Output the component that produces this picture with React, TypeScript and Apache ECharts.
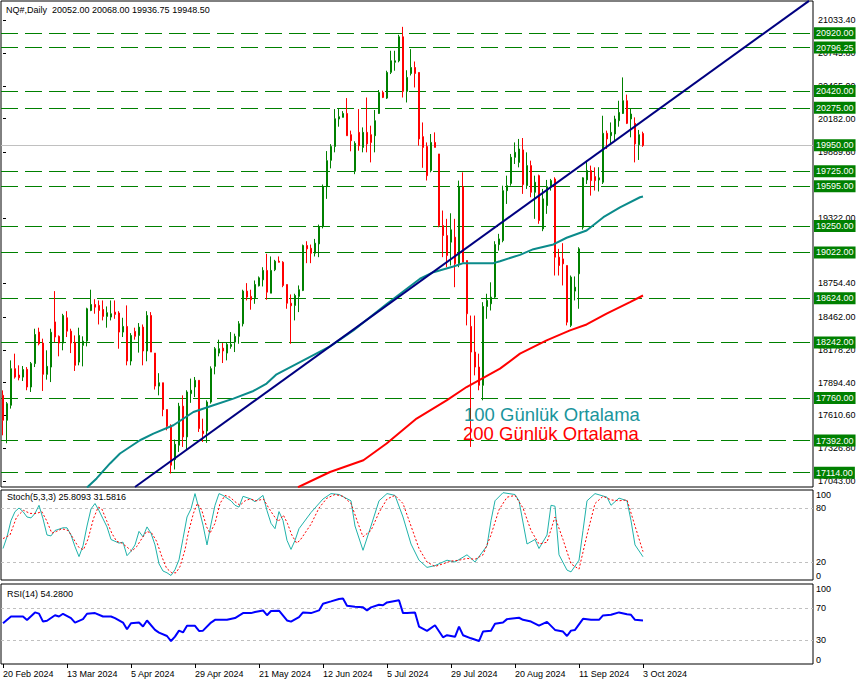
import React, { useEffect, useRef } from 'react';
import * as echarts from 'echarts';

const FONT = '"Liberation Sans", Arial, sans-serif';
const HOLIDAYS = ['2024-03-29', '2024-07-04'];
const MONTHS = ['Jan', 'Feb', 'Mar', 'Apr', 'May', 'Jun', 'Jul', 'Aug', 'Sep', 'Oct', 'Nov', 'Dec'];
const BAR_COUNT = 161;
const SLOT_COUNT = 203;
const PRICE_MIN = 16990;
const PRICE_MAX = 21200;

// [open, high, low, close]
const candles: number[][] = [
  [17784, 17827, 17438, 17568], [17568, 17726, 17369, 17712], [17698, 18087, 17669, 18015], [18015, 18145, 17929, 17942],
  [17960, 18044, 17914, 17936], [17942, 18038, 17908, 18007], [18009, 18029, 17828, 17856], [17856, 18073, 17813, 18059],
  [18059, 18361, 18029, 18311], [18332, 18370, 18217, 18231], [18237, 18275, 17822, 17966], [17966, 18174, 17920, 18035],
  [18029, 18361, 17899, 18330], [18420, 18687, 18245, 18289], [18295, 18303, 18122, 18237], [18237, 18490, 18174, 18475],
  [18456, 18513, 18289, 18340], [18340, 18361, 18150, 18237], [18243, 18303, 17995, 18044], [18072, 18370, 18044, 18303],
  [18217, 18295, 18035, 18254], [18254, 18543, 18208, 18534], [18519, 18699, 18513, 18571], [18571, 18617, 18491, 18548],
  [18563, 18606, 18398, 18519], [18528, 18606, 18433, 18468], [18468, 18554, 18370, 18500], [18462, 18606, 18433, 18491],
  [18505, 18606, 18447, 18485], [18497, 18513, 18188, 18332], [18332, 18456, 18289, 18381], [18381, 18563, 18044, 18081],
  [18081, 18323, 18044, 18303], [18338, 18370, 18266, 18295], [18303, 18410, 18154, 18375], [18375, 18398, 18044, 18168],
  [18168, 18513, 18079, 18476], [18476, 18505, 18159, 18159], [18150, 18150, 17834, 17864], [17864, 17976, 17784, 17893],
  [17893, 17893, 17603, 17661], [17661, 17661, 17481, 17516], [17516, 17533, 17107, 17179], [17228, 17401, 17142, 17360],
  [17352, 17719, 17294, 17690], [17690, 17784, 17337, 17424], [17424, 17828, 17309, 17813], [17799, 17929, 17719, 17828],
  [17856, 17943, 17769, 17914], [17914, 17914, 17467, 17496], [17475, 17582, 17380, 17452], [17475, 17741, 17372, 17726],
  [17726, 18035, 17712, 18015], [18035, 18202, 17966, 18188], [18150, 18266, 18122, 18188], [18193, 18237, 18064, 18168],
  [18150, 18245, 18087, 18225], [18208, 18332, 18188, 18225], [18245, 18318, 18159, 18295], [18295, 18427, 18231, 18404],
  [18404, 18699, 18381, 18687], [18687, 18756, 18606, 18635], [18641, 18699, 18526, 18612], [18629, 18779, 18577, 18744],
  [18733, 18814, 18727, 18802], [18785, 18894, 18727, 18866], [18866, 19010, 18612, 18678], [18669, 18987, 18669, 18866],
  [18872, 18958, 18860, 18946], [18946, 18987, 18935, 18937], [18937, 18946, 18721, 18736], [18744, 18744, 18534, 18582],
  [18582, 18658, 18231, 18560], [18563, 18664, 18433, 18649], [18641, 18736, 18505, 18699], [18693, 19090, 18687, 19082],
  [19082, 19119, 18929, 19053], [19058, 19090, 18929, 19015], [19015, 19139, 18987, 19102], [19096, 19263, 18981, 19246],
  [19246, 19610, 19230, 19592], [19592, 19900, 19486, 19817], [19820, 19960, 19750, 19940], [19940, 20264, 19889, 20180],
  [20178, 20264, 20111, 20198], [20192, 20246, 20192, 20226], [20226, 20359, 20033, 20033], [20042, 20077, 19898, 19990],
  [19725, 19985, 19700, 19967], [20062, 20264, 19903, 19946], [19932, 20105, 19889, 20062], [20062, 20364, 19889, 19962],
  [20042, 20120, 19802, 19975], [20033, 20256, 19889, 20163], [20226, 20429, 20221, 20408], [20408, 20423, 20359, 20365],
  [20359, 20596, 20351, 20581], [20582, 20769, 20567, 20682], [20669, 20769, 20596, 20682], [20682, 20907, 20669, 20890],
  [20890, 20976, 20364, 20417], [20417, 20600, 20321, 20538], [20572, 20783, 20555, 20624], [20624, 20676, 20451, 20572],
  [20581, 20581, 19947, 20005], [20025, 20148, 19755, 19932], [19940, 19975, 19645, 19687], [19731, 20048, 19716, 19975],
  [19975, 20062, 19932, 19932], [19875, 19875, 19240, 19255], [19255, 19385, 18981, 19168], [19168, 19313, 18894, 18995],
  [19111, 19361, 18909, 19218], [19154, 19313, 18721, 18924], [18924, 19644, 18894, 19592], [19592, 19716, 18937, 18937],
  [18952, 18952, 18390, 18491], [18381, 18475, 17337, 18159], [18159, 18475, 17957, 18029], [18029, 18145, 17828, 17871],
  [17871, 18591, 17741, 18554], [18554, 18664, 18447, 18606], [18577, 18763, 18519, 18635], [18635, 19119, 18620, 19090],
  [19090, 19183, 19038, 19139], [19125, 19600, 19110, 19557], [19557, 19687, 19442, 19600], [19620, 19875, 19600, 19846],
  [19846, 19975, 19788, 19889], [19802, 20005, 19759, 19918], [19910, 20013, 19529, 19610], [19601, 19889, 19572, 19774],
  [19774, 19817, 19500, 19543], [19543, 19687, 19313, 19630], [19687, 19696, 19270, 19298], [19226, 19572, 19206, 19486],
  [19428, 19650, 19356, 19592], [19592, 19659, 19557, 19644], [19658, 19673, 18822, 18981], [18981, 19053, 18822, 18909],
  [18966, 19102, 18736, 18923], [18909, 18909, 18390, 18418], [18390, 18822, 18375, 18808], [18687, 18814, 18606, 18721],
  [18837, 19067, 18534, 19053], [19240, 19673, 19220, 19668], [19650, 19817, 19615, 19731], [19731, 19774, 19514, 19644],
  [19679, 19759, 19558, 19644], [19650, 19760, 19550, 19668], [19630, 20206, 19615, 20054], [20054, 20077, 19918, 20005],
  [20033, 20148, 19960, 20062], [20048, 20206, 19990, 20178], [20163, 20336, 20111, 20235], [20226, 20538, 20221, 20336],
  [20336, 20389, 20134, 20140], [20178, 20273, 20019, 20221], [20140, 20192, 19802, 19962], [19955, 20083, 19823, 20042],
  [20052, 20068, 19936.75, 19948.5],
];

const levelLines = [20920, 20796.25, 20420, 20275, 19725, 19595, 19250, 19022, 18624, 18242, 17760, 17392, 17114];
const bidLevel = 19950;
const priceTicks = [17043, 17326.8, 17610.6, 17894.4, 18178.2, 18462, 18754.4, 19322, 19889.6, 20182, 20465, 20745.8, 21033.4];

// [bar index, value]
const ma100 = [[21, 16985], [23.4, 17064], [26.75, 17194], [29.25, 17280], [34.25, 17395], [37.6, 17453], [42.6, 17525], [47.6, 17640],
  [52.6, 17698], [57.6, 17756], [62.6, 17822], [65.9, 17886], [68.4, 17966], [74.25, 18072], [81.75, 18208], [87.6, 18347],
  [96, 18578], [104.25, 18794], [107.6, 18851], [112.6, 18900], [115.1, 18929], [122.6, 18929], [124.25, 18946], [129.25, 19001],
  [132.6, 19050], [137.6, 19091], [140.9, 19149], [145.9, 19212], [150.1, 19327], [154.25, 19413], [159.25, 19500], [160, 19506]];
const ma200 = [[73.75, 16988], [81.75, 17120], [90.1, 17222], [95.9, 17367], [103.4, 17583], [110.9, 17741], [115.9, 17856],
  [124.25, 18015], [129.25, 18145], [135.9, 18260], [141.75, 18347], [145.9, 18398], [150.9, 18491], [156.75, 18591], [160, 18649]];
const trendLine = [[33, 16990], [201.5, 21201]];

const stochK = [[0, 35], [1, 48], [2, 66], [3, 76], [4, 80], [5, 76], [6, 70], [7, 69], [8, 74], [9, 83], [10, 68], [11, 50], [12, 49],
  [13, 55], [15, 58], [16, 58], [17, 50], [18, 37], [19, 26], [20, 38], [21, 60], [22, 79], [23, 85], [24, 77], [25, 68], [26, 59],
  [27, 45], [28, 43], [29, 41], [30, 42], [31, 27], [32, 32], [33, 39], [34, 54], [35, 48], [36, 59], [37, 52], [38, 39], [39, 18],
  [40, 10], [41, 8], [42, 5], [43, 11.5], [44, 22.5], [45, 46], [46, 70], [47, 79], [48, 96], [49, 79], [50, 61], [51, 39], [52, 62],
  [53, 83], [54, 96], [55, 94], [57, 88], [58, 83], [59, 81], [60, 93], [62, 90], [63, 87], [65, 94], [66, 77], [67, 63], [68, 57],
  [69, 76], [70, 66], [71, 44], [72, 34], [73, 44], [74, 57], [77, 75], [80, 90], [82, 96], [84, 95], [87, 88], [88, 60], [90, 33],
  [92, 60], [94, 88], [96, 96], [98, 94], [100, 70], [102, 40], [104, 22], [106, 14], [108, 16], [111, 22], [113, 20], [116, 28],
  [118, 20], [121, 38], [122, 66], [123, 88], [125, 97], [128, 95], [129, 88], [131, 40], [133, 45], [134, 35], [136, 50], [137, 83],
  [138, 82], [139, 28], [141, 11], [142, 9], [144, 22], [145, 55], [146, 88], [148, 96], [151, 92], [152, 83], [154, 91], [156, 88],
  [157, 66], [158, 39], [160, 25.8]];
const stochD = [[0, 46], [1.75, 50], [3.4, 70], [5.1, 77.5], [6.75, 74], [8.4, 74], [9.7, 76], [10.9, 66], [12.2, 52], [13.4, 54],
  [14.7, 57], [16.3, 55], [17.6, 46], [18.8, 37], [20.1, 33.5], [21.3, 46], [22.6, 68], [23.8, 81], [24.7, 79], [25.9, 66], [27.2, 52],
  [28.4, 43], [29.7, 41], [30.9, 37], [32.2, 32], [33.4, 37], [34.7, 46], [35.9, 54], [37.2, 52], [38.4, 43], [39.7, 26], [40.9, 13],
  [42.2, 8], [43.25, 8], [44.25, 15], [45.5, 33.5], [46.3, 52], [47.6, 74], [48.6, 85], [49.7, 77.5], [50.9, 59], [51.75, 52], [53, 63],
  [54.25, 85], [55.5, 94], [56.75, 92], [58, 87], [59.25, 83], [60.5, 88], [61.75, 90], [63.4, 88], [65.1, 90], [66.3, 81], [67.6, 72],
  [68.8, 65], [70.1, 72], [71.1, 63], [72.2, 50], [73.4, 41], [74.25, 44], [77, 62], [79, 80], [81, 91], [83, 95], [85, 93], [87, 85],
  [89, 60], [90, 48], [92, 55], [94, 75], [96, 90], [98, 94], [100, 85], [102, 60], [104, 35], [106, 20], [108, 15], [110, 18],
  [112, 21], [114, 22], [116, 24], [118, 23], [120, 28], [122, 50], [124, 78], [126, 92], [128, 94], [130, 80], [132, 55], [134, 40],
  [136, 42], [138, 70], [140, 45], [142, 18], [144, 12], [146, 50], [148, 85], [150, 93], [152, 89], [154, 88], [156, 89], [158, 60],
  [160, 31.6]];
const rsi = [[0, 51], [2, 59.4], [5, 59.4], [6, 55], [8, 64.5], [9, 63], [10, 53], [11, 54], [13, 61], [14, 59.4], [15, 62.8], [17, 57.4],
  [18, 51.8], [20, 56], [21, 62.8], [23, 63.6], [25, 59.4], [27, 59.4], [28, 57.4], [30, 51.8], [31, 43.5], [32, 51], [34, 51.8],
  [35, 46.8], [36, 54.4], [38, 42.6], [39, 39.2], [41, 35], [42, 28.7], [43, 34.2], [44, 41.7], [45, 39.5], [46, 47.7], [48, 47.7],
  [49, 41.4], [50, 41.7], [52, 51.8], [53, 55.2], [56, 55.2], [58, 57.4], [60, 63.6], [62, 63.6], [63, 65], [65, 67], [66, 61],
  [67, 66.2], [69, 66.6], [71, 54.4], [72, 53], [74, 58.6], [75, 64.5], [77, 63.6], [79, 67], [80, 75.4], [82, 78.3], [84, 81.3],
  [85, 81.9], [86, 72.9], [88, 71.6], [90, 70.8], [91, 67], [92, 70.8], [94, 74.1], [95, 73.4], [96, 77], [99, 79.6], [100, 63.6],
  [101, 63.6], [103, 64.5], [104, 46.8], [106, 41.4], [108, 48.5], [110, 33.4], [111, 36], [113, 34], [114, 46.8], [115, 36],
  [117, 32.1], [119, 28.7], [120, 40.5], [122, 41.7], [123, 50.2], [125, 51.8], [126, 56.1], [129, 57.8], [130, 55.2], [132, 53],
  [134, 48], [136, 52.7], [138, 42.6], [140, 40.5], [141, 35], [142, 41.7], [143, 42.6], [145, 56.5], [147, 55.2], [149, 55.2],
  [150, 60.7], [152, 61.5], [154, 64.5], [156, 62.3], [157, 61.5], [158, 55.2], [160, 54.3]];

const stochLevels = [80, 20];
const rsiLevels = [70, 30];
const stochTicks = [0, 20, 80, 100];
const rsiTicks = [0, 30, 70, 100];

const headerText = 'NQ#,Daily  20052.00 20068.00 19936.75 19948.50';
const stochText = 'Stoch(5,3,3) 25.8093 31.5816';
const rsiText = 'RSI(14) 54.2800';
const legend100 = '100 Günlük Ortalama';
const legend200 = '200 Günlük Ortalama';

function buildCategories(): string[] {
  const out: string[] = [];
  const d = new Date(Date.UTC(2024, 1, 20));
  while (out.length < BAR_COUNT) {
    const dow = d.getUTCDay();
    const iso = d.toISOString().slice(0, 10);
    if (dow !== 0 && dow !== 6 && HOLIDAYS.indexOf(iso) < 0) {
      out.push(`${d.getUTCDate()} ${MONTHS[d.getUTCMonth()]} ${d.getUTCFullYear()}`);
    }
    d.setUTCDate(d.getUTCDate() + 1);
  }
  for (let i = BAR_COUNT; i < SLOT_COUNT; i++) out.push('f' + i);
  return out;
}

function buildOption(): any {
  const cats = buildCategories();
  const showDate = (i: number) => i % 16 === 0 && i < BAR_COUNT;
  const txt = { fontFamily: FONT, fontSize: 9, color: '#000' };
  const gridBase = { left: 1, width: 812, show: true, borderColor: '#000', borderWidth: 1, backgroundColor: '#fff' };
  const hiddenValX = (gridIndex: number) => ({
    type: 'value', gridIndex, position: 'top', min: -0.5, max: SLOT_COUNT - 0.5, show: false, splitLine: { show: false },
  });
  // crisp horizontal level lines drawn as split lines of an extra axis
  const levelAxis = (gridIndex: number, min: number, max: number, values: number[], color: string, type: any) => ({
    type: 'value', gridIndex, position: 'right', min, max,
    axisLine: { show: false }, axisLabel: { show: false }, axisTick: { show: false, customValues: values },
    splitLine: { show: true, lineStyle: { color, type, width: 1 } },
  });
  const subY = (gridIndex: number, ticks: number[]) => ({
    type: 'value', gridIndex, position: 'right', min: 0, max: 100,
    axisLine: { show: false }, axisTick: { show: false }, splitLine: { show: false },
    axisLabel: { ...txt, margin: 3, customValues: ticks, verticalAlignMaxLabel: 'top', verticalAlignMinLabel: 'bottom' },
  });
  return {
    animation: false,
    backgroundColor: '#fff',
    grid: [
      { ...gridBase, top: 1, height: 486 },
      { ...gridBase, top: 490, height: 90 },
      { ...gridBase, top: 584, height: 80 },
    ],
    xAxis: [
      { type: 'category', gridIndex: 0, position: 'bottom', data: cats, boundaryGap: true, show: false },
      hiddenValX(0),
      hiddenValX(1),
      hiddenValX(2),
      {
        type: 'category', gridIndex: 2, position: 'bottom', data: cats, boundaryGap: true,
        axisLine: { show: false },
        axisTick: { show: true, alignWithLabel: true, interval: (i: number) => showDate(i), length: 4, lineStyle: { color: '#000' } },
        axisLabel: { ...txt, interval: (i: number) => showDate(i), align: 'left', margin: 5, formatter: (v: string) => (v.charAt(0) === 'f' ? '' : v) },
        splitLine: { show: false },
      },
    ],
    yAxis: [
      {
        type: 'value', gridIndex: 0, position: 'right', min: PRICE_MIN, max: PRICE_MAX,
        axisLine: { show: false }, splitLine: { show: false },
        axisTick: { show: true, length: 3, customValues: priceTicks, lineStyle: { color: '#000' } },
        axisLabel: { ...txt, margin: 5, customValues: priceTicks, formatter: (v: number) => v.toFixed(2) },
      },
      subY(1, stochTicks),
      subY(2, rsiTicks),
      levelAxis(0, PRICE_MIN, PRICE_MAX, levelLines, '#008000', [17, 7]),
      levelAxis(0, PRICE_MIN, PRICE_MAX, [bidLevel], '#C0C0C0', 'solid'),
      levelAxis(1, 0, 100, stochLevels, '#C0C0C0', [3, 3]),
      levelAxis(2, 0, 100, rsiLevels, '#C0C0C0', [3, 3]),
    ],
    series: [
      {
        type: 'line', xAxisIndex: 1, yAxisIndex: 0, data: [], z: 6, silent: true,
        markLine: {
          silent: true, symbol: ['none', 'none'],
          lineStyle: { color: 'rgba(0,0,0,0)', width: 1 },
          label: {
            show: true, position: 'end', distance: 1, formatter: (p: any) => Number(p.value).toFixed(2),
            backgroundColor: '#008000', color: '#ffffff', fontFamily: FONT, fontSize: 9, padding: [2, 2, 1, 2],
          },
          data: [...levelLines, bidLevel].map((v) => ({ yAxis: v })),
        },
      },
      {
        type: 'candlestick', xAxisIndex: 0, yAxisIndex: 0, barWidth: 2, z: 2,
        itemStyle: { color: '#008000', color0: '#FF0000', borderColor: '#008000', borderColor0: '#FF0000', borderWidth: 1 },
        data: candles.map(([o, h, l, c]) => [o, c, l, h]),
      },
      { type: 'line', xAxisIndex: 1, yAxisIndex: 0, data: ma100, showSymbol: false, z: 4, lineStyle: { color: '#0B8B8B', width: 2 } },
      { type: 'line', xAxisIndex: 1, yAxisIndex: 0, data: ma200, showSymbol: false, z: 4, lineStyle: { color: '#FF0000', width: 2 } },
      { type: 'line', xAxisIndex: 1, yAxisIndex: 0, data: trendLine, showSymbol: false, z: 5, lineStyle: { color: '#000080', width: 2 } },
      { type: 'line', xAxisIndex: 2, yAxisIndex: 1, data: stochK, showSymbol: false, z: 4, lineStyle: { color: '#20B2AA', width: 1 } },
      { type: 'line', xAxisIndex: 2, yAxisIndex: 1, data: stochD, showSymbol: false, z: 5, lineStyle: { color: '#FF0000', width: 1, type: [2, 2] } },
      { type: 'line', xAxisIndex: 3, yAxisIndex: 2, data: rsi, showSymbol: false, z: 4, lineStyle: { color: '#0000FF', width: 2 } },
    ],
    graphic: [
      { type: 'text', left: 6, top: 5, z: 100, style: { text: headerText, fontFamily: FONT, fontSize: 9, fill: '#000' } },
      { type: 'text', left: 7, top: 492, z: 100, style: { text: stochText, fontFamily: FONT, fontSize: 9, fill: '#000' } },
      { type: 'text', left: 7, top: 589, z: 100, style: { text: rsiText, fontFamily: FONT, fontSize: 9, fill: '#000' } },
      { type: 'text', left: 464, top: 405, z: 100, style: { text: legend100, fontFamily: FONT, fontSize: 18.5, fill: '#1A959C' } },
      { type: 'text', left: 463, top: 424, z: 100, style: { text: legend200, fontFamily: FONT, fontSize: 18.5, fill: '#FF0000' } },
    ],
  };
}

export default function App() {
  const ref = useRef<HTMLDivElement>(null);
  useEffect(() => {
    if (!ref.current) return;
    const chart = echarts.init(ref.current, undefined, { renderer: 'svg' });
    chart.setOption(buildOption());
    return () => chart.dispose();
  }, []);
  return (
    <div
      ref={ref}
      style={{ position: 'fixed', left: 0, top: 0, width: 864, height: 686, background: '#fff' }}
    />
  );
}
